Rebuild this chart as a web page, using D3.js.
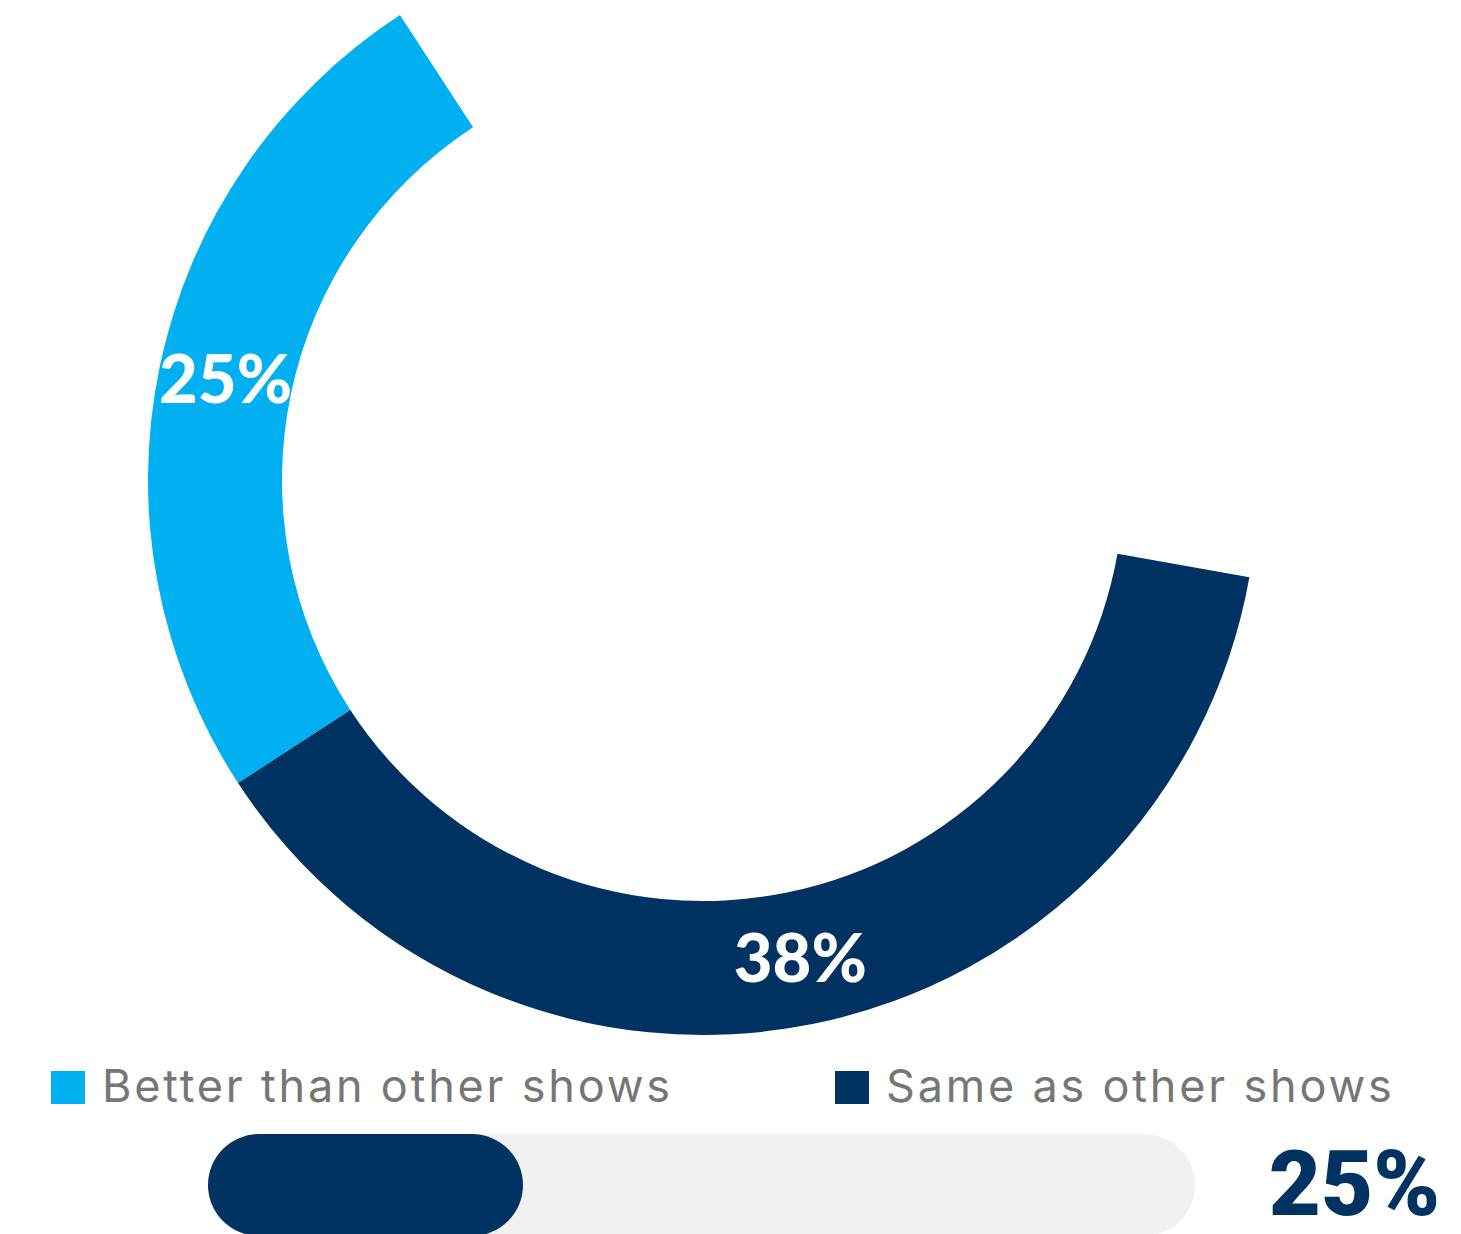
<!DOCTYPE html>
<html>
<head>
<meta charset="utf-8">
<script src="https://cdn.jsdelivr.net/npm/d3@7"></script>
<style>
html,body{margin:0;padding:0;background:#fff;overflow:hidden;}
</style>
</head>
<body>
<svg id="chart" width="1461" height="1234"></svg>
<script>
// Data
const categories = ["Better than other shows", "Same as other shows", "Other"];
const values = [25, 38, 37];
const colors = ["#00b0f0", "#003361", "none"];
const legendItems = ["Better than other shows", "Same as other shows"];
const progressValue = [25];

const svg = d3.select("#chart");
const cx = 703, cy = 480, R = 555, r0 = 421;
const start = -33.1 * Math.PI / 180;

const pie = d3.pie().sort(null).value(d => d).startAngle(start).endAngle(start - 2 * Math.PI);
const arcs = pie(values);
const arc = d3.arc().innerRadius(r0).outerRadius(R);
const g = svg.append("g").attr("transform", `translate(${cx},${cy})`);

g.selectAll("path.slice").data(arcs).enter().append("path")
  .attr("class", "slice")
  .attr("d", arc)
  .attr("fill", (d, i) => colors[i]);

g.selectAll("text.lbl").data(arcs.filter((d, i) => colors[i] !== "none")).enter().append("text")
  .attr("class", "lbl")
  .attr("transform", d => `translate(${arc.centroid(d)})`)
  .attr("text-anchor", "middle")
  .attr("dy", "0.36em")
  .attr("font-family", "Lato, sans-serif")
  .attr("font-weight", 900)
  .attr("font-size", 67)
  .attr("fill", "#fff")
  .text(d => d.value + "%");

// Legend
const legendX = [51, 835];
const lg = svg.selectAll("g.leg").data(legendItems).enter().append("g")
  .attr("class", "leg")
  .attr("transform", (d, i) => `translate(${legendX[i]},1071)`);
lg.append("rect").attr("width", 34).attr("height", 33).attr("fill", (d, i) => colors[i]);
lg.append("text")
  .attr("x", 51).attr("y", 31)
  .attr("font-family", "Inter, sans-serif")
  .attr("font-size", 45)
  .attr("letter-spacing", 2.8)
  .attr("fill", "#767676")
  .text(d => d);

// Progress bar
const barX = 208, barW = 987, barY = 1134, barH = 102;
const px = d3.scaleLinear().domain([0, 100]).range([91, barW]);
svg.append("rect").attr("x", barX).attr("y", barY).attr("width", barW).attr("height", barH)
  .attr("rx", barH / 2).attr("fill", "#f1f1f1");
svg.selectAll("rect.fill").data(progressValue).enter().append("rect")
  .attr("class", "fill")
  .attr("x", barX).attr("y", barY).attr("height", barH)
  .attr("width", d => px(d))
  .attr("rx", barH / 2).attr("fill", "#003361");
svg.selectAll("text.pv").data(progressValue).enter().append("text")
  .attr("class", "pv")
  .attr("x", 1440).attr("y", 1215)
  .attr("text-anchor", "end")
  .attr("font-family", "Roboto, sans-serif")
  .attr("font-weight", 900)
  .attr("font-size", 90)
  .attr("fill", "#003361")
  .text(d => d + "%");
</script>
</body>
</html>
